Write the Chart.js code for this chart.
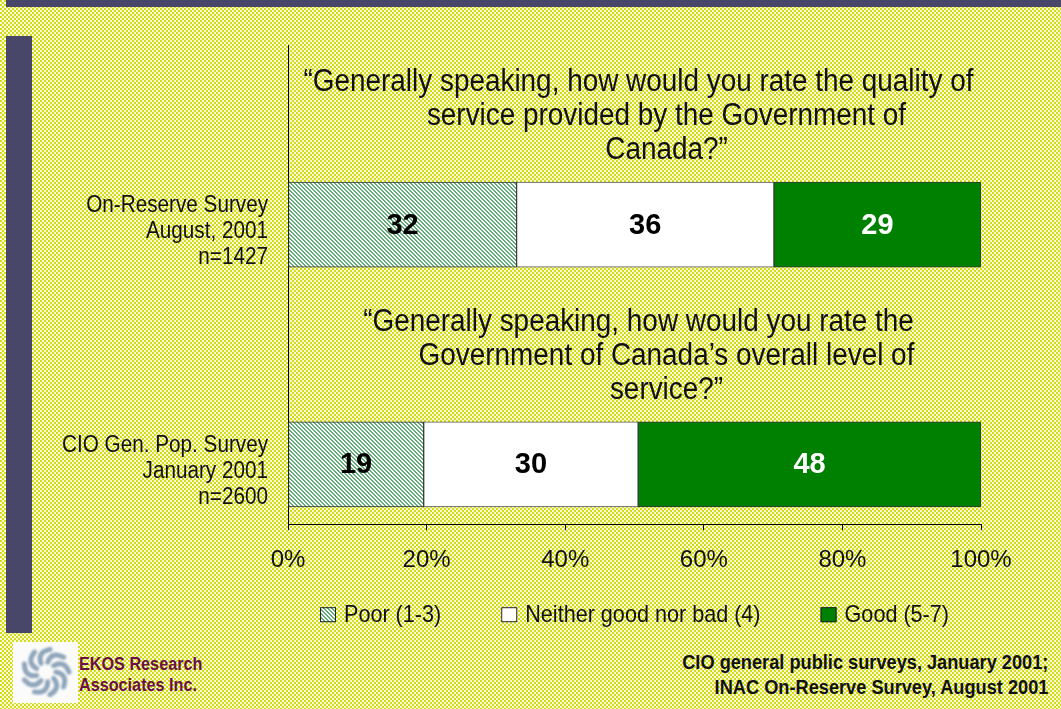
<!DOCTYPE html>
<html>
<head>
<meta charset="utf-8">
<script src="https://cdn.jsdelivr.net/npm/chart.js@4/dist/chart.umd.min.js"></script>
<style>
  html, body { margin: 0; padding: 0; }
  body { width: 1061px; height: 709px; overflow: hidden; position: relative; background-color: #e6eb7c; }
  #topBar { position: absolute; left: 6px; top: 0; width: 1055px; height: 7px; background: #48476a; }
  #sideBar { position: absolute; left: 6px; top: 36px; width: 26px; height: 597px; background: #48476a; }
  #logo { position: absolute; left: 13px; top: 642px; width: 65px; height: 61px; background: #fbfbfb; }
  #firm { position: absolute; left: 79px; top: 654px; color: #6a1045; white-space: nowrap;
          font: bold 18px/21px "Liberation Sans", Arial, sans-serif;
          transform: scaleX(0.9); transform-origin: left top; }
  #source { position: absolute; right: 13px; top: 650px; text-align: right; color: #111; white-space: nowrap;
            font: bold 20px/25px "Liberation Sans", Arial, sans-serif;
            transform: scaleX(0.91); transform-origin: right top; }
  #chart { position: absolute; left: 0; top: 0; }
</style>
</head>
<body>
<div id="topBar"></div>
<div id="sideBar"></div>
<div id="logo"><canvas id="logoMark" width="65" height="61"></canvas></div>
<div id="firm">EKOS Research<br>Associates Inc.</div>
<div id="source">CIO general public surveys, January 2001;<br>INAC On-Reserve Survey, August 2001</div>
<canvas id="chart" width="1061" height="709"></canvas>
<script>
const surveys = [
  ['On-Reserve Survey', 'August, 2001', 'n=1427'],
  ['CIO Gen. Pop. Survey', 'January 2001', 'n=2600']
];
const questions = [
  ['\u201CGenerally speaking, how would you rate the quality of', 'service provided by the Government of', 'Canada?\u201D'],
  ['\u201CGenerally speaking, how would you rate the', 'Government of Canada\u2019s overall level of', 'service?\u201D']
];
const poor = [32, 19];
const neither = [36, 30];
const good = [29, 48];
const ratingNames = ['Poor (1-3)', 'Neither good nor bad (4)', 'Good (5-7)'];
const pctTicks = [0, 20, 40, 60, 80, 100];

const REGULAR = '"Liberation Sans", Arial, sans-serif';
// no narrow face installed, so the regular one is squeezed horizontally
const SQUEEZE = 0.9;

function makeTile(size, paint) {
  const c = document.createElement('canvas');
  c.width = c.height = size;
  paint(c.getContext('2d'));
  return c;
}

// dotted slide background
const bgTile = makeTile(4, g => {
  g.fillStyle = '#f8f9dc';
  g.fillRect(0, 0, 4, 4);
  g.fillStyle = '#d3dc14';
  g.fillRect(0, 0, 2, 2);
  g.fillRect(2, 2, 2, 2);
});
document.body.style.backgroundImage = `url(${bgTile.toDataURL()})`;

// fine diagonal hatch for the "poor" segments
const hatchTile = makeTile(4, g => {
  g.fillStyle = '#ffffff';
  g.fillRect(0, 0, 4, 4);
  g.fillStyle = '#62ae78';
  for (let i = 0; i < 4; i++) {
    g.fillRect(i, i % 4, 1, 1);
    g.fillRect(i, (i + 1) % 4, 1, 1);
  }
});

function drawLogo() {
  const g = document.getElementById('logoMark').getContext('2d');
  g.filter = 'blur(1px)';
  g.strokeStyle = '#8ea5ba';
  g.lineWidth = 5;
  g.lineCap = 'round';
  const cx = 33, cy = 30;
  for (let k = 0; k < 9; k++) {
    const a = k * Math.PI * 2 / 9;
    g.beginPath();
    g.moveTo(cx + 10 * Math.cos(a), cy + 10 * Math.sin(a));
    g.quadraticCurveTo(cx + 22 * Math.cos(a + 0.1), cy + 22 * Math.sin(a + 0.1),
                       cx + 23 * Math.cos(a + 0.7), cy + 23 * Math.sin(a + 0.7));
    g.stroke();
  }
}

function narrowText(g, text, x, y, align) {
  g.save();
  g.translate(x, y);
  g.scale(SQUEEZE, 1);
  g.textAlign = align;
  g.fillText(text, 0, 0);
  g.restore();
}

function init() {
  drawLogo();
  const ctx = document.getElementById('chart').getContext('2d');
  const hatch = ctx.createPattern(hatchTile, 'repeat');

  // each survey row gets an empty slot above it for its question
  const rows = surveys.map((s, i) => ['q' + i, 's' + i]).flat();
  const totals = poor.map((v, i) => v + neither[i] + good[i]);
  const share = arr => arr.flatMap((v, i) => [null, v / totals[i] * 100]);
  const counts = arr => arr.flatMap(v => [null, v]);

  const slideText = {
    id: 'slideText',
    afterDraw(chart) {
      const g = chart.ctx;
      const y = chart.scales.y;
      const { left, right, bottom } = chart.chartArea;
      const mid = (left + right) / 2;
      g.save();
      g.fillStyle = '#111';
      g.textBaseline = 'middle';

      // question above each bar
      g.font = `31px ${REGULAR}`;
      questions.forEach((lines, i) => {
        const cy = y.getPixelForValue(i * 2) + 12;
        lines.forEach((line, j) => {
          narrowText(g, line, j === 0 ? mid + 4 : mid + 32, cy + (j - 1) * 34, 'center');
        });
      });

      // survey names on the left of each bar
      g.font = `23px ${REGULAR}`;
      surveys.forEach((lines, i) => {
        const cy = y.getPixelForValue(i * 2 + 1) + 7;
        lines.forEach((line, j) => {
          narrowText(g, line, left - 20, cy + (j - 1) * 26, 'right');
        });
      });

      // legend row, centred under the plot
      g.font = `24px ${REGULAR}`;
      const sets = chart.data.datasets;
      const widths = sets.map(ds => 16 + 8 + g.measureText(ds.label).width * SQUEEZE);
      const total = widths.reduce((a, b) => a + b, 0) + 60 * (sets.length - 1);
      let x = mid - total / 2;
      const ly = bottom + 90;
      sets.forEach((ds, i) => {
        g.fillStyle = ds.backgroundColor;
        g.fillRect(x, ly - 7, 16, 15);
        g.strokeStyle = '#222';
        g.lineWidth = 1;
        g.strokeRect(x + 0.5, ly - 6.5, 15, 14);
        g.fillStyle = '#111';
        narrowText(g, ds.label, x + 24, ly + 1, 'left');
        x += widths[i] + 60;
      });
      g.restore();
    }
  };

  const valueLabels = {
    id: 'valueLabels',
    afterDatasetsDraw(chart) {
      const g = chart.ctx;
      g.save();
      g.font = `bold 29px ${REGULAR}`;
      g.textAlign = 'center';
      g.textBaseline = 'middle';
      chart.data.datasets.forEach((ds, i) => {
        chart.getDatasetMeta(i).data.forEach((bar, j) => {
          if (ds.counts[j] == null) return;
          const { x, base, y } = bar.getProps(['x', 'base', 'y'], true);
          g.fillStyle = ds.labelColor;
          g.fillText(String(ds.counts[j]), (x + base) / 2, y + 1);
        });
      });
      g.restore();
    }
  };

  new Chart(ctx, {
    type: 'bar',
    data: {
      labels: rows,
      datasets: [
        { label: ratingNames[0], data: share(poor), counts: counts(poor), labelColor: '#000',
          backgroundColor: hatch, borderColor: '#333', borderWidth: 1, borderSkipped: false },
        { label: ratingNames[1], data: share(neither), counts: counts(neither), labelColor: '#000',
          backgroundColor: '#ffffff', borderColor: '#555', borderWidth: 1, borderSkipped: false },
        { label: ratingNames[2], data: share(good), counts: counts(good), labelColor: '#fff',
          backgroundColor: '#008000', borderColor: '#333', borderWidth: 1, borderSkipped: false }
      ]
    },
    options: {
      indexAxis: 'y',
      responsive: false,
      animation: false,
      barThickness: 85,
      layout: { padding: { top: 45, right: 80, bottom: 118, left: 0 } },
      plugins: {
        legend: { display: false },
        tooltip: { enabled: false }
      },
      scales: {
        x: {
          stacked: true,
          min: 0,
          max: 100,
          afterBuildTicks: scale => { scale.ticks = pctTicks.map(v => ({ value: v })); },
          grid: { drawOnChartArea: false, drawTicks: true, tickLength: 6, color: '#000' },
          border: { display: true, color: '#000', width: 1 },
          ticks: {
            color: '#111',
            font: { family: REGULAR, size: 24 },
            padding: 16,
            maxRotation: 0,
            callback: v => `${v}%`
          }
        },
        y: {
          stacked: true,
          afterFit: scale => { scale.width = 288; },
          grid: { display: false, drawTicks: false },
          border: { display: true, color: '#000', width: 1 },
          ticks: { display: false }
        }
      }
    },
    plugins: [valueLabels, slideText]
  });
}

document.addEventListener('DOMContentLoaded', init);
</script>
</body>
</html>
